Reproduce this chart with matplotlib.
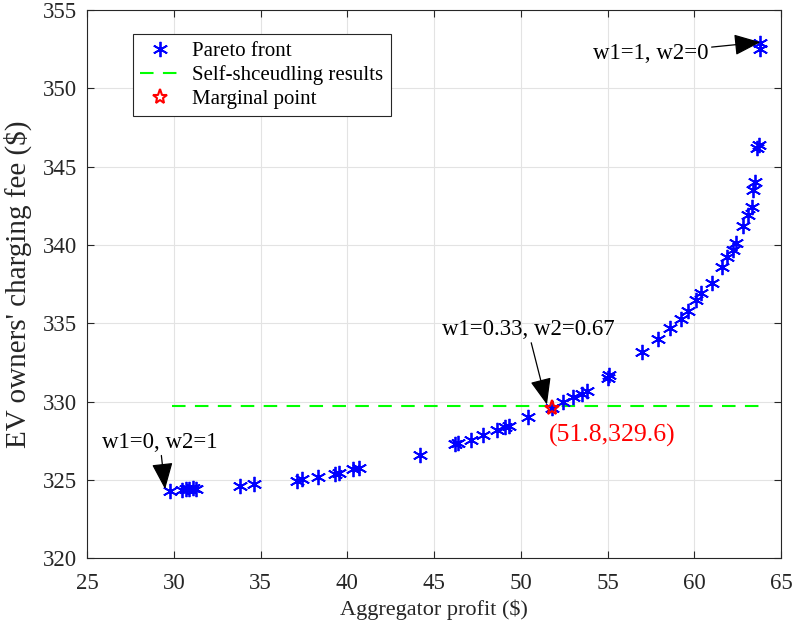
import numpy as np
import matplotlib
matplotlib.use('Agg')
import matplotlib.pyplot as plt

# Pareto front
profit = [29.8, 30.5, 30.7, 30.9, 31.1, 31.3,
          33.8, 34.6,
          37.1, 37.4, 38.3, 39.3, 39.5, 40.3, 40.7,
          44.2,
          46.2, 46.4, 47.1, 47.8, 48.6, 49.1, 49.3, 50.4,
          51.8, 52.4, 53.0, 53.5, 53.8, 55.0, 55.1,
          57.0, 57.9, 58.6, 59.2, 59.6, 60.1, 60.4, 61.0,
          61.6, 61.9, 62.2, 62.4, 62.8, 63.1, 63.3, 63.4, 63.5,
          63.6, 63.7, 63.8, 63.8]
fee = [324.3, 324.35, 324.4, 324.4, 324.45, 324.4,
       324.6, 324.7,
       324.95, 325.05, 325.2, 325.4, 325.45, 325.7, 325.75,
       326.6,
       327.3, 327.35, 327.55, 327.85, 328.2, 328.4, 328.45, 329.0,
       329.6, 330.0, 330.3, 330.5, 330.7, 331.5, 331.7,
       333.15, 334.0, 334.7, 335.3, 335.8, 336.5, 336.9, 337.6,
       338.6, 339.2, 339.7, 340.1, 341.2, 341.9, 342.4, 343.5, 344.0,
       346.2, 346.4, 352.5, 352.9]

self_sched_fee = 329.7
self_sched_range = [29.9, 63.8]
marginal = (51.8, 329.6)

plt.rcParams['font.family'] = 'serif'
plt.rcParams['font.serif'] = ['Liberation Serif']

fig = plt.figure(figsize=(7.93, 6.32), dpi=100)
ax = fig.add_axes([0.1097, 0.117, 0.8755, 0.867])

dark = '#262626'
ax.plot(profit, fee, linestyle='none', marker=(6, 2, 0), markersize=11,
        markeredgewidth=1.3, color='b', label='Pareto front', zorder=3)
ax.plot(self_sched_range, [self_sched_fee, self_sched_fee], color='#00ff00',
        lw=1.5, dashes=(6.5, 4.5), label='Self-shceudling results', zorder=2)
ax.plot([marginal[0]], [marginal[1]], linestyle='none', marker='*', markersize=11,
        markerfacecolor='none', markeredgecolor='r', markeredgewidth=1.5,
        label='Marginal point', zorder=4)

ax.set_xlim(25, 65)
ax.set_ylim(320, 355)
ax.set_xticks(np.arange(25, 66, 5))
ax.set_yticks(np.arange(320, 356, 5))
ax.grid(True, color='#e3e3e3', lw=0.8)
ax.set_axisbelow(True)
ax.tick_params(direction='in', top=True, right=True, labelsize=16.5, colors=dark,
               length=5, width=0.8)
ax.tick_params(axis='x', pad=10.5)
ax.tick_params(axis='y', pad=7)
for s in ax.spines.values():
    s.set_color(dark)
    s.set_linewidth(0.8)

ax.set_xlabel('Aggregator profit ($)', fontsize=16, color=dark, labelpad=4)
ax.set_ylabel("EV owners' charging fee ($)", fontsize=21, color=dark, labelpad=8)

arrow = dict(arrowstyle='-|>,head_length=1.0,head_width=0.4', color='k', lw=0.9,
             shrinkA=0, shrinkB=0)
ax.annotate('w1=0, w2=1', xy=(29.5, 324.4), xytext=(29.2, 327.4), fontsize=16.5,
            ha='center', va='center', arrowprops=arrow)
ax.annotate('w1=0.33, w2=0.67', xy=(51.5, 329.8), xytext=(50.4, 334.6), fontsize=16.5,
            ha='center', va='center', arrowprops=arrow)
ax.annotate('w1=1, w2=0', xy=(63.8, 352.95), xytext=(57.5, 352.25), fontsize=16.5,
            ha='center', va='center', arrowprops=arrow)
ax.text(51.6, 327.8, '(51.8,329.6)', color='r', fontsize=18.5, ha='left', va='center')

leg = ax.legend(loc='upper left', bbox_to_anchor=(0.066, 0.956), borderaxespad=0,
                fontsize=15, frameon=True, fancybox=False, edgecolor=dark,
                framealpha=1, handlelength=1.9, handletextpad=0.6,
                borderpad=0.35, labelspacing=0.2)
leg.get_frame().set_linewidth(0.8)

fig.savefig('out.png', dpi=100)
